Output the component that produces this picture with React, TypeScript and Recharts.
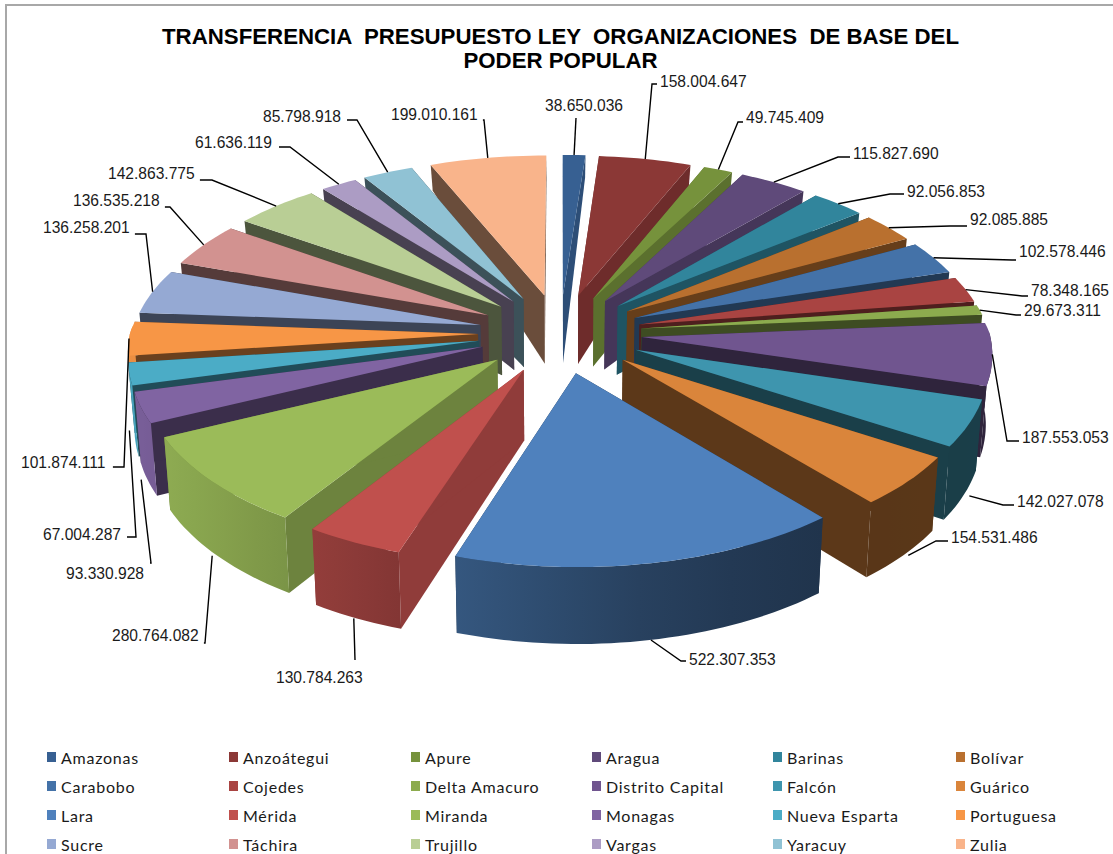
import React from "react";
import { PieChart, Pie, Legend } from "recharts";

const states = ["Amazonas","Anzoátegui","Apure","Aragua","Barinas","Bolívar","Carabobo","Cojedes","Delta Amacuro","Distrito Capital","Falcón","Guárico","Lara","Mérida","Miranda","Monagas","Nueva Esparta","Portuguesa","Sucre","Táchira","Trujillo","Vargas","Yaracuy","Zulia"];
const amounts = [38650036,158004647,49745409,115827690,92056853,92085885,102578446,78348165,29673311,187553053,142027078,154531486,522307353,130784263,280764082,93330928,67004287,101874111,136258201,136535218,142863775,61636119,85798918,199010161];
const colors = ["#376092","#8B3836","#76923C","#5F4A7A","#31859C","#B9702F","#4472A8","#A94442","#8CAB4E","#70558F","#3E95AE","#DA853B","#4F81BD","#C0504D","#9BBB59","#8064A2","#4BACC6","#F79646","#95A9D3","#D29290","#B9CE95","#AC9CC4","#90C2D4","#F9B48B"];

// Layout of the data labels: text box left edge, text centre y, elbow x, elbow y
const labelLayout: number[][] = [
  [545,105,576,118],[660,81,652,84],[746,117,738,122],[853,153,838,157],[907,191,890,194],[970,219,950,226],
  [1019,251,1012,260],[1031,290,1022,296],[1024,310,1016,315],[1022,437,1007,441],[1017,501,1003,505],[951,537,936,541],
  [689,659,681,661],[276,677,355,660],[112,635,205,643],[66,573,151,563],[43,534,136,537],[21,462,124,467],
  [43,227,146,234],[73,200,170,207],[108,173,212,180],[195,142,290,147],[263,116,357,120],[391,114,484,120],
];

const W = 1113, H = 854;
const CX = 560, CY = 333, R = 348, EXPLODE = 82;

const project = (X: number, Y: number): [number, number] => {
  const s = Y >= 0 ? 1 / (1 - 0.00024 * Y) : 1 / (1 - 0.00037 * Y);
  const ky = Y >= 0 ? 0.49 : 0.48;
  return [CX + X * s, CY + ky * Y * s];
};
const lerpTable = (t: number[][], v: number) => {
  if (v <= t[0][0]) return t[0][1];
  for (let i = 1; i < t.length; i++) {
    if (v <= t[i][0]) {
      const f = (v - t[i - 1][0]) / (t[i][0] - t[i - 1][0]);
      return t[i - 1][1] + f * (t[i][1] - t[i - 1][1]);
    }
  }
  return t[t.length - 1][1];
};
const depthAt = (Y: number) => lerpTable([[-430, 22], [-90, 68], [100, 71], [430, 77]], Y);
const shade = (hex: string, f: number) => {
  const n = parseInt(hex.slice(1), 16);
  const c = (v: number) => Math.round(Math.min(255, v * f));
  return `rgb(${c((n >> 16) & 255)},${c((n >> 8) & 255)},${c(n & 255)})`;
};
// light on radial walls by clockwise angle from the top
const wallLight = (deg: number) =>
  lerpTable([[0, 0.82], [30, 0.76], [60, 0.52], [90, 0.42], [190, 0.42], [200, 0.76], [240, 0.68], [250, 0.46], [285, 0.4], [360, 0.43]], deg);
const outerLight = (x: number) =>
  lerpTable([[130, 0.95], [300, 0.78], [400, 0.68], [460, 0.67], [640, 0.5], [800, 0.4], [1000, 0.42]], x);

const total = amounts.reduce((a, b) => a + b, 0);
const midYs = amounts.map((v, i) => {
  const before = amounts.slice(0, i).reduce((a, b) => a + b, 0);
  return -Math.cos(((before + v / 2) / total) * 2 * Math.PI);
});
const paintOrder = amounts.map((_, i) => i).sort((a, b) => midYs[a] - midYs[b]);
const tableData = states.map((name, i) => ({ name, value: amounts[i] }));

const toPath = (pts: [number, number][]) =>
  "M" + pts.map((p) => `${p[0].toFixed(1)},${p[1].toFixed(1)}`).join("L") + "Z";

const bottomOf = (p: [number, number]): [number, number] => {
  const q = project(p[0], p[1]);
  return [CX + (q[0] - CX) * 0.985, q[1] + depthAt(p[1])];
};

const SliceShape = (props: any) => {
  const { startAngle, endAngle, outerRadius, index } = props;
  const fill = colors[index];
  const rad = (d: number) => (d * Math.PI) / 180;
  const mid = rad((startAngle + endAngle) / 2);
  const ox = EXPLODE * Math.cos(mid), oy = -EXPLODE * Math.sin(mid);
  const arc: [number, number][] = [];
  const frontArc: [number, number][] = [];
  const steps = Math.max(2, Math.ceil(Math.abs(startAngle - endAngle) / 1.5));
  for (let k = 0; k <= steps; k++) {
    const a = rad(startAngle + ((endAngle - startAngle) * k) / steps);
    const pt: [number, number] = [ox + outerRadius * Math.cos(a), oy - outerRadius * Math.sin(a)];
    arc.push(pt);
    if (-Math.sin(a) > -0.05) frontArc.push(pt);
  }
  const top = (p: [number, number]) => project(p[0], p[1]);
  const apex: [number, number] = [ox, oy];
  const first = arc[0], last = arc[arc.length - 1];
  const clockDeg = ((90 - (startAngle + endAngle) / 2) % 360 + 360) % 360;
  const wallFill = shade(fill, wallLight(clockDeg));
  const xs = arc.map((p) => top(p)[0]);
  const xa = Math.min(...xs), xb = Math.max(...xs) + 0.5;
  const gid = `wall-${index}`;
  return (
    <g>
      <defs>
        <linearGradient id={gid} gradientUnits="userSpaceOnUse" x1={xa} x2={xb} y1={0} y2={0}>
          {[0, 0.25, 0.5, 0.75, 1].map((t) => (
            <stop key={t} offset={t} stopColor={shade(fill, outerLight(xa + (xb - xa) * t))} />
          ))}
        </linearGradient>
      </defs>
      <path d={toPath([top(apex), top(first), bottomOf(first), bottomOf(apex)])} fill={wallFill} />
      <path d={toPath([top(apex), top(last), bottomOf(last), bottomOf(apex)])} fill={wallFill} />
      {frontArc.length > 1 && (
        <path d={toPath([...frontArc.map(top), ...frontArc.slice().reverse().map(bottomOf)])} fill={`url(#${gid})`} />
      )}
      <path d={toPath([top(apex), ...arc.map(top)])} fill={fill} />
    </g>
  );
};

const HiddenShape = () => <g />;

const formatAmount = (v: number) => String(v).replace(/\B(?=(\d{3})+(?!\d))/g, ".");

const renderLabel = (props: any) => {
  const { index, startAngle, endAngle, outerRadius, value } = props;
  const a = (((startAngle + endAngle) / 2) * Math.PI) / 180;
  const rr = outerRadius + EXPLODE;
  const gx = rr * Math.cos(a), gy = -rr * Math.sin(a);
  const [sx, sy] = project(gx, gy);
  const sinA = Math.sin(a);
  const startY = sinA < -0.25 ? sy + depthAt(gy) : sinA < -0.15 ? sy + 0.8 * depthAt(gy) : sy;
  const [tx, ty, ex, ey] = labelLayout[index];
  const text = formatAmount(value);
  const tw = text.length * 7.9;
  const lineEnd = ex < tx ? tx - 3 : tx + tw + 5;
  const overText = ex >= tx && ex <= tx + tw + 5;
  const pts = `${sx},${startY} ${ex},${ey}` + (!overText && Math.abs(lineEnd - ex) < 30 ? ` ${lineEnd},${ey}` : "");
  return (
    <g key={index}>
      <polyline points={pts} fill="none" stroke="#000" strokeWidth={1.4} />
      <text x={tx} y={ty} dominantBaseline="central" fontFamily="Liberation Sans, Arial, sans-serif" fontSize={15.6} fill="#1a1a1a">{text}</text>
    </g>
  );
};

const LegendGrid = () => (
  <div style={{ position: "absolute", left: 0, top: 0, width: W, height: H, pointerEvents: "none" }}>
    {states.map((name, i) => {
      const col = i % 6, row = Math.floor(i / 6);
      const x = [47, 229, 411, 592, 773, 956][col];
      const y = [757, 786, 815, 844][row];
      return (
        <div key={name} style={{ position: "absolute", left: x, top: y - 12, height: 24, display: "flex", alignItems: "center", whiteSpace: "nowrap" }}>
          <span style={{ width: 9, height: 10, background: colors[i], display: "inline-block", marginRight: 5 }} />
          <span style={{ fontFamily: "Lato, sans-serif", fontSize: 16, letterSpacing: 0.75, color: "#1a1a1a" }}>{name}</span>
        </div>
      );
    })}
  </div>
);

export default function App() {
  return (
    <div style={{ position: "absolute", left: 0, top: 0, width: W, height: H, background: "#fff", overflow: "hidden" }}>
      <div style={{ position: "absolute", left: 5, top: 4, width: W + 20, height: H + 20, border: "2px solid #a8a8a8", boxSizing: "border-box" }} />
      <div style={{ position: "absolute", left: 0, top: 25, width: 1121, textAlign: "center", fontFamily: "Liberation Sans, Arial, sans-serif", fontWeight: 700, fontSize: 22.25, lineHeight: "24px", whiteSpace: "pre", color: "#000" }}>
        {"TRANSFERENCIA  PRESUPUESTO LEY  ORGANIZACIONES  DE BASE DEL\nPODER POPULAR"}
      </div>
      <PieChart width={W} height={H} style={{ position: "absolute", left: 0, top: 0 }} margin={{ top: 0, right: 0, bottom: 0, left: 0 }}>
        {paintOrder.map((k) => (
          <Pie
            key={k}
            data={tableData}
            dataKey="value"
            nameKey="name"
            cx={CX}
            cy={CY}
            innerRadius={0}
            outerRadius={R}
            startAngle={90}
            endAngle={-270}
            isAnimationActive={false}
            legendType="none"
            labelLine={false}
            label={false}
            stroke="none"
            shape={(p: any) => (p.index === k ? <SliceShape {...p} /> : <HiddenShape />)}
          />
        ))}
        <Pie
          data={tableData}
          dataKey="value"
          nameKey="name"
          cx={CX}
          cy={CY}
          innerRadius={0}
          outerRadius={R}
          startAngle={90}
          endAngle={-270}
          isAnimationActive={false}
          legendType="none"
          labelLine={false}
          label={renderLabel}
          stroke="none"
          shape={() => <HiddenShape />}
        />
        <Legend content={() => <LegendGrid />} wrapperStyle={{ position: "absolute", left: 0, top: 0, width: W, height: H, bottom: "auto" }} />
      </PieChart>
    </div>
  );
}
